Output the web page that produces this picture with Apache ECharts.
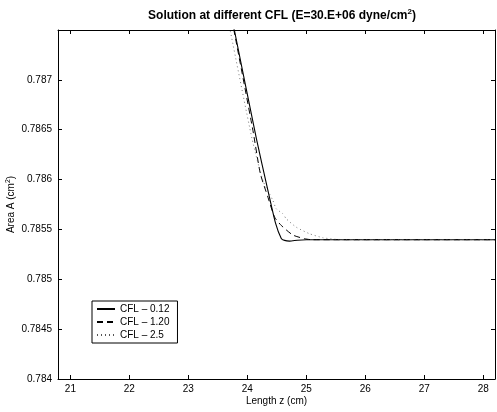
<!DOCTYPE html>
<html>
<head>
<meta charset="utf-8">
<script src="https://cdn.jsdelivr.net/npm/echarts@6/dist/echarts.min.js"></script>
<style>html,body{margin:0;padding:0;background:#fff}#c{width:497px;height:412px}</style>
</head>
<body>
<div id="c"></div>
<script>
var seriesNames = ['CFL \u2013 0.12', 'CFL \u2013 1.20', 'CFL \u2013 2.5'];
var zSolid = [23.61, 23.787, 24.154, 24.350, 24.480, 24.576, 24.632, 24.716, 24.85, 25.0, 28.2];
var aSolid = [0.7880, 0.78748, 0.78641, 0.78589, 0.78556, 0.78541, 0.785390, 0.785383, 0.785392, 0.785397, 0.785397];
var zDashed = [23.60, 23.779, 24.096, 24.221, 24.350, 24.463, 24.576, 24.772, 24.970, 25.09, 28.2];
var aDashed = [0.7880, 0.78748, 0.78649, 0.78606, 0.785823, 0.785623, 0.78554, 0.785444, 0.785407, 0.785397, 0.785397];
var zDotted = [23.54, 23.715, 24.08, 24.265, 24.434, 24.491, 24.603, 24.660, 24.829, 25.054, 25.279, 25.505, 25.65, 28.2];
var aDotted = [0.7880, 0.78748, 0.78641, 0.78599, 0.78579, 0.785707, 0.785657, 0.785607, 0.785523, 0.785457, 0.785417, 0.785400, 0.785397, 0.785397];
var xTicks = [21, 22, 23, 24, 25, 26, 27, 28];
var yTicks = [0.784, 0.7845, 0.785, 0.7855, 0.786, 0.7865, 0.787, 0.7875];
var yTickLabels = ['0.784', '0.7845', '0.785', '0.7855', '0.786', '0.7865', '0.787', ''];

function pairs(z, a) { return z.map(function (v, i) { return [v, a[i]]; }); }
var FONT = 'Liberation Sans, Arial, Helvetica, sans-serif';
var chart = echarts.init(document.getElementById('c'));
var axisCommon = {
  axisLine: { show: true, lineStyle: { color: '#000', width: 1 } },
  splitLine: { show: false }
};
chart.setOption({
  animation: false,
  backgroundColor: '#fff',
  title: {
    text: '{a|Solution at different CFL (E=30.E+06 dyne/cm}{s|2}{a|)}',
    left: 277, top: 3, textAlign: 'center',
    textStyle: {
      rich: {
        a: { fontFamily: FONT, fontWeight: 'bold', fontSize: 12, color: '#000', lineHeight: 15 },
        s: { fontFamily: FONT, fontWeight: 'bold', fontSize: 8, color: '#000', verticalAlign: 'top', lineHeight: 15, padding: [0, 0, 6, 0] }
      }
    }
  },
  grid: { left: 58, right: 2, top: 30, bottom: 33, containLabel: false, outerBoundsMode: 'none' },
  legend: {
    data: seriesNames,
    orient: 'vertical', left: 92, top: 301,
    padding: [3, 8, 3, 4], itemGap: 3, itemWidth: 18, itemHeight: 10,
    backgroundColor: '#fff', borderColor: '#000', borderWidth: 1, borderRadius: 0,
    itemStyle: { opacity: 0 },
    textStyle: { fontFamily: FONT, fontSize: 10, color: '#000' }
  },
  xAxis: [{
    type: 'value', min: 20.79, max: 28.2, position: 'bottom',
    name: 'Length z (cm)', nameLocation: 'middle', nameGap: 17, nameMoveOverlap: false,
    nameTextStyle: { fontFamily: FONT, fontSize: 10, color: '#000' },
    axisTick: { show: true, inside: true, length: 4, customValues: xTicks, lineStyle: { color: '#000' } },
    axisLabel: { show: true, customValues: xTicks, margin: 5, fontFamily: FONT, fontSize: 10, color: '#000' },
    axisLine: axisCommon.axisLine, splitLine: axisCommon.splitLine
  }, {
    type: 'value', min: 20.79, max: 28.2, position: 'top',
    axisTick: { show: true, inside: true, length: 4, customValues: xTicks, lineStyle: { color: '#000' } },
    axisLabel: { show: false },
    axisLine: axisCommon.axisLine, splitLine: axisCommon.splitLine
  }],
  yAxis: [{
    type: 'value', min: 0.784, max: 0.7875, position: 'left',
    name: '{a|Area A (cm}{s|2}{a|)}', nameLocation: 'middle', nameGap: 40, nameMoveOverlap: false,
    nameTextStyle: {
      rich: {
        a: { fontFamily: FONT, fontSize: 10, color: '#000', lineHeight: 13 },
        s: { fontFamily: FONT, fontSize: 7, color: '#000', verticalAlign: 'top', lineHeight: 13 }
      }
    },
    axisTick: { show: true, inside: true, length: 4, customValues: yTicks, lineStyle: { color: '#000' } },
    axisLabel: {
      show: true, customValues: yTicks, margin: 6, fontFamily: FONT, fontSize: 10, color: '#000',
      formatter: function (v) {
        for (var i = 0; i < yTicks.length; i++) if (Math.abs(yTicks[i] - v) < 1e-7) return yTickLabels[i];
        return '';
      }
    },
    axisLine: axisCommon.axisLine, splitLine: axisCommon.splitLine
  }, {
    type: 'value', min: 0.784, max: 0.7875, position: 'right',
    axisTick: { show: true, inside: true, length: 4, customValues: yTicks, lineStyle: { color: '#000' } },
    axisLabel: { show: false },
    axisLine: axisCommon.axisLine, splitLine: axisCommon.splitLine
  }],
  series: [{
    name: seriesNames[0], type: 'line', data: pairs(zSolid, aSolid), symbol: 'none', smooth: 0.2, clip: true,
    lineStyle: { color: '#000', width: 1.1, type: 'solid' }, itemStyle: { color: '#000' }
  }, {
    name: seriesNames[1], type: 'line', data: pairs(zDashed, aDashed), symbol: 'none', smooth: 0.2, clip: true,
    lineStyle: { color: '#000', width: 1, type: [6, 4] }, itemStyle: { color: '#000' }
  }, {
    name: seriesNames[2], type: 'line', data: pairs(zDotted, aDotted), symbol: 'none', smooth: 0.2, clip: true,
    lineStyle: { color: '#555', width: 0.8, type: [1, 3] }, itemStyle: { color: '#555' }
  }]
});
</script>
</body>
</html>
